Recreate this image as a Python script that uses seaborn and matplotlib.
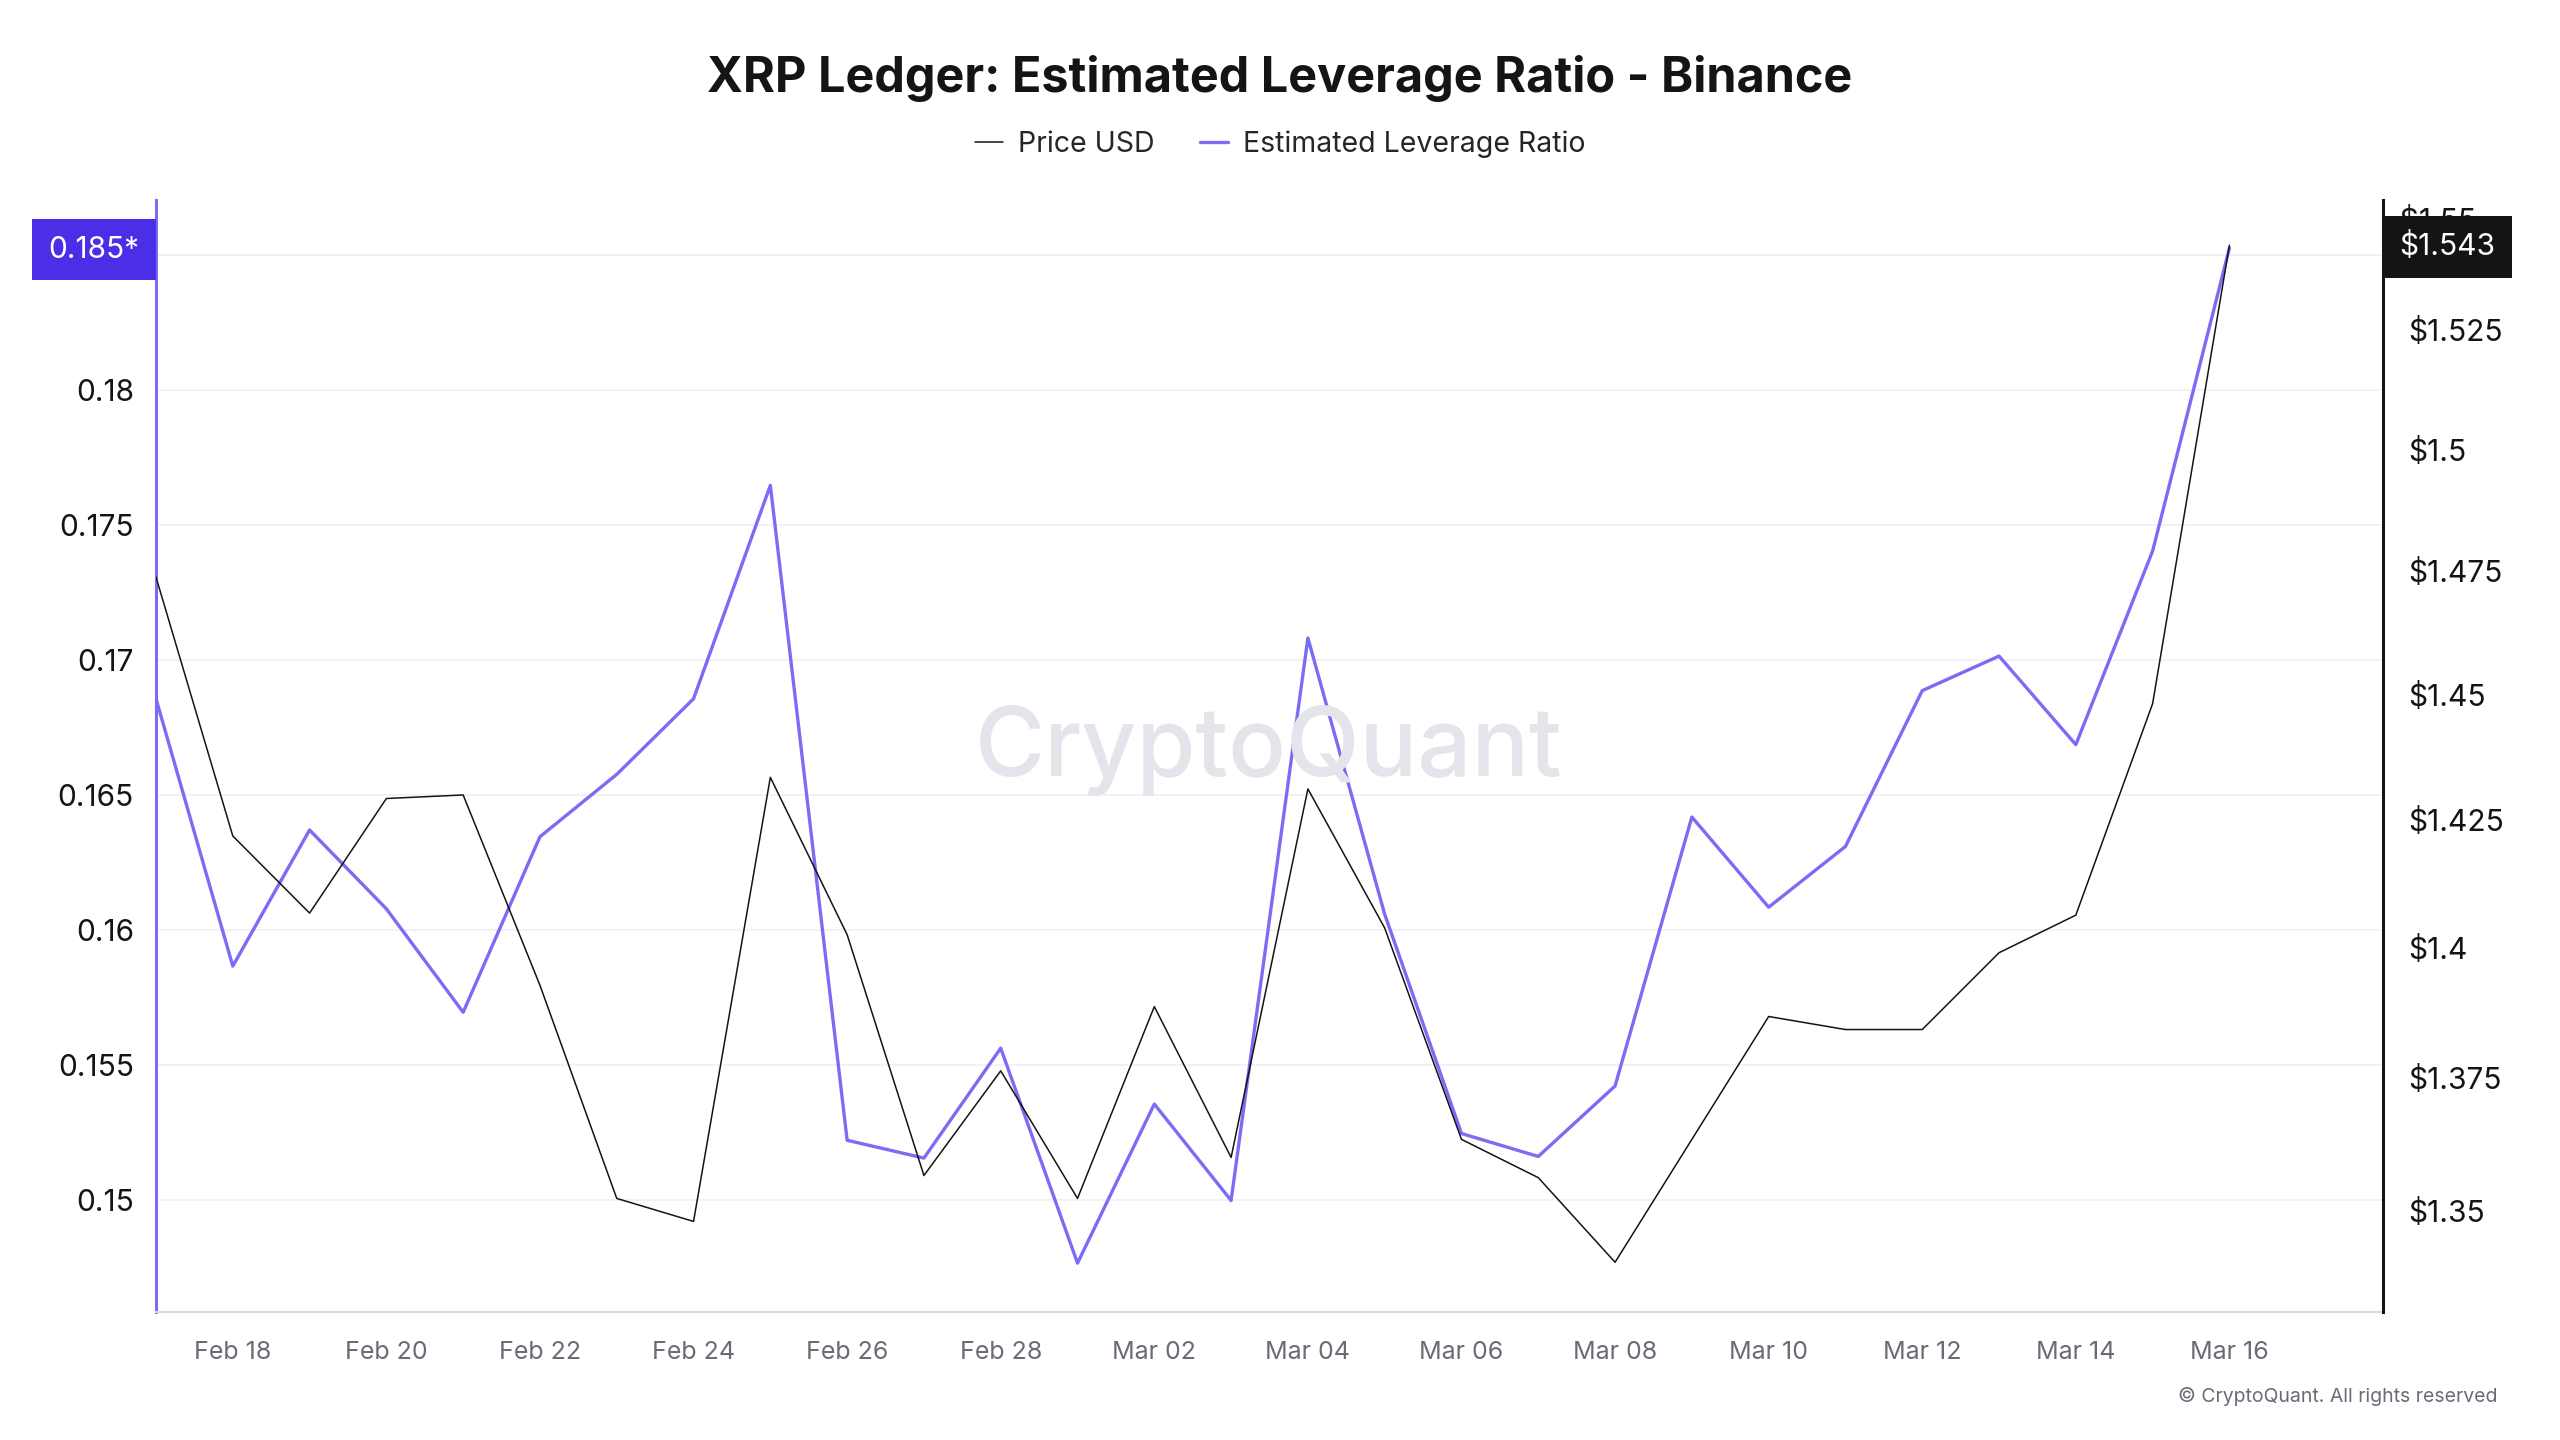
import pandas as pd
import matplotlib
matplotlib.use("Agg")
import matplotlib.pyplot as plt
import matplotlib.dates as mdates
from matplotlib.lines import Line2D
from matplotlib.ticker import FixedLocator, NullLocator
import seaborn as sns

# ------------------- Data -------------------
dates = pd.date_range("2025-02-17", "2025-03-16", freq="D")

leverage_ratio = [
    0.16858, 0.15868, 0.16372, 0.16080, 0.15697, 0.16347, 0.16578, 0.16858,
    0.17648, 0.15223, 0.15157, 0.15564, 0.14768, 0.15357, 0.15000, 0.17083,
    0.16060, 0.15248, 0.15163, 0.15424, 0.16420, 0.16086, 0.16311, 0.16888,
    0.17016, 0.16688, 0.17405, 0.18527,
]

price_usd = [
    1.4737, 1.4218, 1.4067, 1.4292, 1.4299, 1.3927, 1.3522, 1.3479,
    1.4334, 1.4025, 1.3565, 1.3763, 1.3522, 1.3886, 1.3599, 1.4311,
    1.4038, 1.3633, 1.3561, 1.3403, 1.3633, 1.3867, 1.3842, 1.3842,
    1.3990, 1.4063, 1.4481, 1.5430,
]

left_ticks = [0.15, 0.155, 0.16, 0.165, 0.17, 0.175, 0.18, 0.185]
right_ticks = [1.35, 1.375, 1.4, 1.425, 1.45, 1.475, 1.5, 1.525]

df = pd.DataFrame({"Date": dates, "Leverage": leverage_ratio, "Price": price_usd})

# ------------------- Style -------------------
PURPLE = "#7b6cf6"
BADGE_PURPLE = "#4a2fe6"
BLACK = "#141414"
GREY = "#6b6b78"

sns.set_style("white")
plt.rcParams["font.family"] = ["Inter", "DejaVu Sans"]

fig = plt.figure(figsize=(25.6, 14.4), dpi=100)
ax = fig.add_axes([156 / 2560, 1 - 1312 / 1440, (2383 - 156) / 2560, (1312 - 200) / 1440])
ax2 = ax.twinx()

# ------------------- Lines -------------------
sns.lineplot(data=df, x="Date", y="Leverage", ax=ax, color=PURPLE, linewidth=2.4, zorder=3)
sns.lineplot(data=df, x="Date", y="Price", ax=ax2, color=BLACK, linewidth=1.1, zorder=3)

# ------------------- Axes -------------------
ax.set_xlim(pd.Timestamp("2025-02-17"), pd.Timestamp("2025-03-18"))
ax.set_ylim(0.14587, 0.18705)
ax2.set_yscale("log")
ax2.set_ylim(1.3311, 1.5527)

ax.set_xticks(dates[1::2])
ax.xaxis.set_major_formatter(mdates.DateFormatter("%b %d"))
ax.tick_params(axis="x", colors="#e2e2ea", length=14, width=1.2, pad=7,
               labelsize=18, labelcolor=GREY)

ax.set_yticks(left_ticks)
ax.set_yticklabels([f"{t:g}" for t in left_ticks[:-1]] + [""])
ax.tick_params(axis="y", length=0, pad=16, labelsize=21.5, labelcolor=BLACK)

ax2.yaxis.set_major_locator(FixedLocator(right_ticks))
ax2.yaxis.set_minor_locator(NullLocator())
ax2.set_yticklabels([f"${t:g}" for t in right_ticks])
ax2.tick_params(axis="y", which="both", length=0, pad=18, labelsize=21.5, labelcolor=BLACK)

ax.grid(axis="y", color="#f1f1f6", linewidth=1.3)
ax.grid(axis="x", visible=False)
ax.set_xlabel("")
ax.set_ylabel("")
ax2.set_xlabel("")
ax2.set_ylabel("")

for a in (ax, ax2):
    for side in ("top", "left", "right", "bottom"):
        a.spines[side].set_visible(False)
ax.spines["left"].set_visible(True)
ax.spines["left"].set_color(PURPLE)
ax.spines["left"].set_linewidth(2.2)
ax.spines["bottom"].set_visible(True)
ax.spines["bottom"].set_color("#d9d9e2")
ax.spines["bottom"].set_linewidth(1.6)
ax2.spines["right"].set_visible(True)
ax2.spines["right"].set_color(BLACK)
ax2.spines["right"].set_linewidth(2.2)

# "$1.55" label sits at the top edge, partly hidden behind the price badge
ax2.text(1.0, 1.548, "  $1.55", transform=ax2.get_yaxis_transform(), ha="left",
         va="center", fontsize=21.5, color=BLACK, clip_on=False, zorder=1)

# ------------------- Last value badges -------------------
ax.annotate(f"{leverage_ratio[-1]:.3f}*", xy=(0, 0.185), xycoords=ax.get_yaxis_transform(),
            xytext=(-12, 4), textcoords="offset points", ha="right", va="center",
            fontsize=21.5, color="white", annotation_clip=False, zorder=10,
            bbox=dict(boxstyle="square,pad=0.55", fc=BADGE_PURPLE, ec="none"))
ax2.annotate(f"${price_usd[-1]:.3f}", xy=(1, price_usd[-1]), xycoords=ax2.get_yaxis_transform(),
             xytext=(12, -1), textcoords="offset points", ha="left", va="center",
             fontsize=21.5, color="white", annotation_clip=False, zorder=10,
             bbox=dict(boxstyle="square,pad=0.55", fc=BLACK, ec="none"))

# ------------------- Watermark, title, legend, footer -------------------
fig.text(0.4957, 0.479, "CryptoQuant", ha="center", va="center", fontsize=69,
         fontweight="medium", color="#e4e4eb", zorder=0)

fig.text(0.5, 1 - 92 / 1440, "XRP Ledger: Estimated Leverage Ratio - Binance",
         ha="center", va="baseline", fontsize=35, fontweight="bold", color=BLACK)

handles = [
    Line2D([], [], color=BLACK, linewidth=1.1),
    Line2D([], [], color=PURPLE, linewidth=2.4),
]
fig.legend(handles, ["Price USD", "Estimated Leverage Ratio"], loc="center",
           bbox_to_anchor=(0.5, 1 - 144 / 1440), ncol=2, frameon=False, fontsize=20.5,
           handlelength=1.0, handletextpad=0.5, columnspacing=1.6)

fig.text(2497 / 2560, 1 - 1396 / 1440, "© CryptoQuant. All rights reserved",
         ha="right", va="center", fontsize=14, color=GREY)

fig.savefig("out.png", dpi=100, facecolor="white")
plt.close(fig)
